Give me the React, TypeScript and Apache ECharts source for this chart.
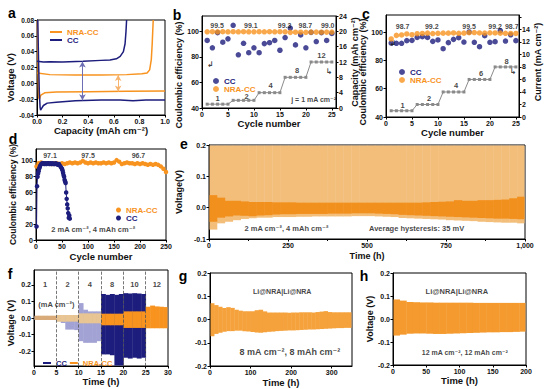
import React, { useEffect, useRef } from "react";
import * as echarts from "echarts";

const NAVY = "#1d1d7d";
const ORANGE = "#f7931e";
const FONT = '"Liberation Sans", Arial, Helvetica, "DejaVu Sans", sans-serif';

// ---------- panel a : voltage profiles ----------
const aCCPlateCap = [0.006, 0.012, 0.018, 0.024, 0.028, 0.035, 0.05, 0.08, 0.15, 0.3, 0.5, 0.65, 0.75, 0.85, 1.0];
const aCCPlateV = [0.08, 0.03, -0.01, -0.03, -0.034, -0.032, -0.028, -0.025, -0.024, -0.022, -0.021, -0.021, -0.022, -0.021, -0.021];
const aCCStripCap = [0.0, 0.05, 0.1, 0.2, 0.36, 0.5, 0.57, 0.62, 0.65, 0.675, 0.688, 0.695, 0.7];
const aCCStripV = [0.028, 0.027, 0.0272, 0.027, 0.028, 0.029, 0.0295, 0.031, 0.034, 0.04, 0.05, 0.065, 0.08];
const aNRAPlateCap = [0.003, 0.006, 0.01, 0.013, 0.018, 0.03, 0.06, 0.15, 0.4, 0.7, 1.0];
const aNRAPlateV = [0.08, 0.04, 0.0, -0.018, -0.02, -0.015, -0.012, -0.011, -0.0105, -0.01, -0.0098];
const aNRAStripCap = [0.002, 0.1, 0.3, 0.5, 0.7, 0.82, 0.86, 0.88, 0.893, 0.9, 0.908];
const aNRAStripV = [0.013, 0.011, 0.0105, 0.0105, 0.011, 0.012, 0.013, 0.017, 0.03, 0.05, 0.08];
const aArrowCC = [0.355, 0.0275, -0.0215];
const aArrowNRA = [0.634, 0.0105, -0.0103];

// ---------- panel b ----------
const bCycles = [1, 2, 3, 4, 5, 6, 7, 8, 9, 10, 11, 12, 13, 14, 15, 16, 17, 18, 19, 20, 21, 22, 23, 24, 25];
const bCC = [92.9, 87.1, 99.0, 91.5, 94.1, 104.7, 81.6, 90.6, 83.3, 87.1, 83.3, 90.4, 91.1, 92.9, 85.2, 95.1, 102.6, 89.4, 97.2, 87.1, 99.2, 92.0, 99.0, 92.9, 98.4];
const bNRA = [99.6, 99.7, 99.6, 99.7, 99.6, 99.7, 99.6, 99.7, 99.6, 99.6, 99.7, 99.6, 99.7, 99.6, 99.7, 99.6, 99.2, 99.3, 99.3, 99.2, 99.4, 99.4, 99.3, 99.4, 99.4];
const bCapacity = [1, 1, 1, 1, 1, 2, 2, 2, 2, 2, 4, 4, 4, 4, 4, 8, 8, 8, 8, 8, 12, 12, 12, 12, 12];
const bEffNotes: [number, number, string][] = [[2.9, 104.3, "99.5"], [9.4, 104.3, "99.1"], [15.9, 104.3, "99.3"], [19.9, 104.3, "98.7"], [24.2, 104.3, "99.0"]];
const bStepNotes: [number, number, string][] = [[3, 2.6, "1"], [8.6, 3.0, "2"], [13.2, 5.8, "4"], [18.3, 9.9, "8"], [23, 13.8, "12"]];

// ---------- panel c ----------
const cCycles = [1, 2, 3, 4, 5, 6, 7, 8, 9, 10, 11, 12, 13, 14, 15, 16, 17, 18, 19, 20, 21, 22, 23, 24, 25];
const cCC = [92.2, 92.0, 92.0, 93.9, 94.1, 96.2, 96.7, 96.2, 93.4, 94.4, 88.2, 92.5, 94.8, 96.0, 92.9, 100.0, 92.7, 89.6, 97.4, 92.7, 93.2, 100.9, 93.6, 98.0, 93.9];
const cNRA = [95.1, 97.6, 97.9, 98.6, 98.1, 98.8, 99.0, 99.2, 98.9, 99.1, 99.2, 99.2, 99.3, 99.1, 99.2, 99.5, 99.6, 99.3, 99.2, 99.4, 99.3, 99.2, 99.1, 99.0, 99.0];
const cCurrent = [1, 1, 1, 1, 1, 2, 2, 2, 2, 2, 4, 4, 4, 4, 4, 6, 6, 6, 6, 6, 8, 8, 8, 8, 8];
const cEffNotes: [number, number, string][] = [[3.2, 103.7, "98.7"], [8.8, 103.7, "99.2"], [16, 103.7, "99.5"], [21.0, 103.7, "99.2"], [24.2, 103.7, "98.7"]];
const cStepNotes: [number, number, string][] = [[3.2, 1.9, "1"], [8.3, 3.0, "2"], [13.5, 5.0, "4"], [18.3, 6.9, "6"], [23.2, 8.8, "8"]];

// ---------- panel d ----------
const dNRACycles = [1, 5, 10, 15, 20, 25, 30, 35, 40, 45, 50, 55, 60, 65, 70, 75, 80, 85, 90, 95, 100, 105, 110, 115, 120, 125, 130, 135, 140, 145, 150, 155, 160, 165, 170, 175, 180, 185, 190, 195, 200, 205, 210, 215, 220, 225, 230, 235, 240, 245, 250];
const dNRA = [93, 97, 98, 97, 97, 97, 96, 97, 97, 96, 97, 96, 97, 98, 97, 98, 97, 98, 100, 98, 97, 98, 97, 98, 97, 97, 98, 97, 98, 97, 98, 101, 99, 96, 97, 98, 97, 97, 96, 97, 96, 97, 96, 95, 96, 95, 96, 95, 93, 90, 86];
const dCCCycles = [1, 2, 3, 4, 5, 6, 7, 8, 10, 12, 14, 16, 18, 20, 22, 24, 26, 28, 30, 32, 34, 36, 38, 40, 42, 44, 46, 48, 50, 51, 52, 53, 54, 55, 56, 57, 58, 59, 60, 61, 62, 63, 64, 65];
const dCC = [17, 68, 80, 84, 87, 90, 92, 94, 96, 97, 97, 96, 97, 96, 97, 97, 96, 97, 96, 97, 96, 96, 97, 96, 95, 96, 94, 92, 90, 88, 85, 82, 80, 76, 74, 72, 60, 52, 45, 40, 34, 28, 31, 27];
const dEffNotes: [number, number, string][] = [[27, 107, "97.1"], [100, 107, "97.5"], [197, 107, "96.7"]];

// ---------- panel e (envelopes of the voltage trace) ----------
const eTimes = [12.5, 37.5, 62.5, 87.5, 112.5, 137.5, 162.5, 187.5, 212.5, 237.5, 262.5, 287.5, 312.5, 337.5, 362.5, 387.5, 412.5, 437.5, 462.5, 487.5, 512.5, 537.5, 562.5, 587.5, 612.5, 637.5, 662.5, 687.5, 712.5, 737.5, 762.5, 787.5, 812.5, 837.5, 862.5, 887.5, 912.5, 937.5, 962.5, 987.5];
const eCoreHigh = [0.04, 0.032, 0.022, 0.022, 0.02, 0.018, 0.018, 0.018, 0.017, 0.017, 0.017, 0.016, 0.016, 0.016, 0.016, 0.016, 0.016, 0.016, 0.016, 0.016, 0.016, 0.016, 0.016, 0.016, 0.016, 0.016, 0.016, 0.017, 0.018, 0.019, 0.02, 0.024, 0.022, 0.022, 0.024, 0.024, 0.025, 0.026, 0.03, 0.035];
const eCoreLow = [-0.045, -0.032, -0.028, -0.025, -0.026, -0.027, -0.025, -0.024, -0.022, -0.021, -0.021, -0.02, -0.02, -0.02, -0.02, -0.019, -0.019, -0.019, -0.018, -0.018, -0.018, -0.019, -0.02, -0.021, -0.023, -0.024, -0.025, -0.026, -0.027, -0.028, -0.029, -0.03, -0.031, -0.032, -0.033, -0.034, -0.035, -0.035, -0.036, -0.037];
const eSpikeLow = [-0.07, -0.05, -0.045, -0.04, -0.036, -0.034, -0.032, -0.032, -0.03, -0.03, -0.03, -0.029, -0.029, -0.028, -0.028, -0.028, -0.028, -0.028, -0.027, -0.027, -0.027, -0.028, -0.029, -0.03, -0.033, -0.034, -0.035, -0.036, -0.037, -0.038, -0.04, -0.041, -0.042, -0.043, -0.045, -0.046, -0.047, -0.048, -0.048, -0.05];
const eSpikeHigh = [0.2, 0.2, 0.2, 0.2, 0.2, 0.2, 0.2, 0.2, 0.2, 0.2, 0.2, 0.2, 0.2, 0.2, 0.2, 0.2, 0.2, 0.2, 0.2, 0.2, 0.2, 0.2, 0.2, 0.2, 0.2, 0.2, 0.2, 0.2, 0.2, 0.2, 0.2, 0.2, 0.2, 0.2, 0.2, 0.2, 0.2, 0.2, 0.2, 0.2];
const eNotes: [number, number, string][] = [[245, -0.068, "2 mA cm⁻², 4 mAh cm⁻²"], [657, -0.068, "Average hysteresis: 35 mV"]];

// ---------- panel f ----------
const fCCTimes = [0.5, 1.5, 2.5, 3.5, 4.5, 5.5, 6.5, 7.5, 8.5, 9.5, 10.5, 11.5, 12.5, 13.5, 14.5, 15.5, 16.5, 17.5, 18.5, 19.5, 20.5, 21.5, 22.5, 23.5, 24.5];
const fCCLow = [-0.01, -0.01, -0.01, -0.01, -0.01, -0.02, -0.03, -0.07, -0.07, -0.073, -0.14, -0.15, -0.15, -0.15, -0.14, -0.22, -0.22, -0.225, -0.3, -0.3, -0.24, -0.245, -0.24, -0.245, -0.24];
const fCCHigh = [0.01, 0.01, 0.01, 0.01, 0.01, 0.015, 0.015, 0.015, 0.015, 0.015, 0.09, 0.05, 0.04, 0.04, 0.04, 0.145, 0.14, 0.145, 0.14, 0.145, 0.15, 0.148, 0.15, 0.148, 0.145];
const fNRATimes = [0.5, 1.5, 2.5, 3.5, 4.5, 5.5, 6.5, 7.5, 8.5, 9.5, 10.5, 11.5, 12.5, 13.5, 14.5, 15.5, 16.5, 17.5, 18.5, 19.5, 20.5, 21.5, 22.5, 23.5, 24.5, 25.5, 26.5, 27.5, 28.5, 29.5];
const fNRALow = [-0.012, -0.012, -0.012, -0.012, -0.012, -0.022, -0.022, -0.022, -0.022, -0.022, -0.032, -0.032, -0.032, -0.032, -0.032, -0.044, -0.044, -0.044, -0.044, -0.044, -0.06, -0.06, -0.06, -0.06, -0.06, -0.062, -0.062, -0.062, -0.062, -0.062];
const fNRAHigh = [0.014, 0.014, 0.014, 0.014, 0.014, 0.018, 0.018, 0.018, 0.018, 0.018, 0.028, 0.028, 0.028, 0.028, 0.028, 0.026, 0.026, 0.026, 0.026, 0.026, 0.04, 0.04, 0.04, 0.04, 0.04, 0.068, 0.075, 0.07, 0.068, 0.066];
const fSteps = [5, 10, 15, 20, 25];
const fCurrentNotes: [number, number, string][] = [[2.5, 0.2, "1"], [7.5, 0.2, "2"], [12.5, 0.2, "4"], [17.5, 0.2, "8"], [22.5, 0.2, "10"], [27.5, 0.2, "12"]];

// ---------- panel g ----------
const gTimes = [5, 15, 25, 35, 45, 55, 65, 75, 85, 95, 105, 115, 125, 135, 145, 155, 165, 175, 185, 195, 205, 215, 225, 235, 245, 255, 265, 275, 285, 295, 305, 315, 325, 335, 345];
const gHigh = [0.07, 0.062, 0.055, 0.05, 0.053, 0.05, 0.042, 0.038, 0.036, 0.036, 0.035, 0.04, 0.042, 0.035, 0.03, 0.03, 0.03, 0.03, 0.03, 0.029, 0.03, 0.03, 0.031, 0.031, 0.031, 0.03, 0.032, 0.034, 0.036, 0.032, 0.031, 0.031, 0.031, 0.031, 0.031];
const gLow = [-0.072, -0.062, -0.057, -0.053, -0.05, -0.05, -0.048, -0.048, -0.05, -0.052, -0.054, -0.056, -0.057, -0.055, -0.053, -0.052, -0.05, -0.049, -0.048, -0.047, -0.047, -0.046, -0.045, -0.044, -0.043, -0.043, -0.042, -0.041, -0.04, -0.039, -0.038, -0.037, -0.037, -0.036, -0.036];

// ---------- panel h ----------
const hTimes = [5, 15, 25, 35, 45, 55, 65, 75, 85, 95, 105, 115, 125, 135, 145, 155, 165, 175, 185, 195];
const hHigh = [0.085, 0.08, 0.074, 0.073, 0.072, 0.072, 0.071, 0.071, 0.071, 0.071, 0.071, 0.071, 0.07, 0.07, 0.07, 0.07, 0.07, 0.07, 0.07, 0.07];
const hLow = [-0.072, -0.068, -0.064, -0.063, -0.063, -0.064, -0.065, -0.065, -0.064, -0.063, -0.062, -0.061, -0.06, -0.059, -0.058, -0.058, -0.057, -0.057, -0.056, -0.055];

// ---------- helpers ----------
const zip = (xs: number[], ys: number[]) => xs.map((x, i) => [x, ys[i]]);
const LBL = { fontSize: 7, fontWeight: "bold", color: "#111", fontFamily: FONT };
const NAME = { fontSize: 9.5, fontWeight: "bold", color: "#111", fontFamily: FONT };

function ax(o: any) {
  const { fmt, hideMax, hideMin, nameSize, namePad, ...rest } = o;
  return {
    type: "value",
    nameLocation: "middle",
    nameTextStyle: { ...NAME, fontSize: nameSize || 9.5, padding: namePad || 0 },
    axisLine: { show: true, onZero: false, lineStyle: { color: "#000", width: 1 } },
    axisTick: { show: true, length: 2.5, lineStyle: { color: "#000" } },
    axisLabel: { ...LBL, margin: 3, formatter: fmt, showMaxLabel: hideMax ? false : undefined, showMinLabel: hideMin ? false : undefined },
    splitLine: { show: false },
    ...rest,
  };
}

function notes(xi: number, yi: number, items: [number, number, string][], size = 7, color = "#111", extra: any = {}) {
  return {
    type: "scatter",
    xAxisIndex: xi,
    yAxisIndex: yi,
    silent: true,
    z: 10,
    symbolSize: 1,
    itemStyle: { color: "transparent" },
    data: items.map(([x, y, t]) => ({ value: [x, y], name: t })),
    label: { show: true, position: "inside", formatter: (p: any) => p.name, color, fontSize: size, fontWeight: "bold", fontFamily: FONT },
    ...extra,
  };
}

function band(xi: number, yi: number, name: string, times: number[], lows: number[], highs: number[], half: number, color: (t: number) => string, z = 2) {
  return {
    type: "custom",
    name,
    xAxisIndex: xi,
    yAxisIndex: yi,
    silent: true,
    z,
    itemStyle: { color: color(times[times.length - 1]) },
    data: times.map((t, i) => [t, lows[i], highs[i]]),
    renderItem: (params: any, api: any) => {
      const t = api.value(0), lo = api.value(1), hi = api.value(2);
      const p0 = api.coord([t - half, hi]);
      const p1 = api.coord([t + half, lo]);
      const cs = params.coordSys;
      const x0 = Math.max(p0[0], cs.x + 0.5), x1 = Math.min(p1[0] + 0.4, cs.x + cs.width - 0.5);
      const y0 = Math.max(p0[1], cs.y + 0.5), y1 = Math.min(p1[1], cs.y + cs.height - 0.5);
      if (!(x1 > x0 && y1 > y0)) return;
      return { type: "rect", shape: { x: x0, y: y0, width: x1 - x0, height: y1 - y0 }, style: { fill: color(t) } };
    },
  };
}

const legendBase = (o: any) => ({
  selectedMode: false,
  formatter: (n: string) => n.split("#")[0],
  textStyle: { fontSize: 8, fontWeight: "bold", fontFamily: FONT },
  ...o,
});

const letter = (t: string, x: number, y: number) => ({
  type: "text",
  x,
  y,
  style: { text: t, fill: "#000", font: `bold 14px ${FONT}`, align: "center", verticalAlign: "middle" },
});

const f1 = (v: number) => v.toFixed(1);
const f2 = (v: number) => v.toFixed(2);

const option: any = {
  animation: false,
  backgroundColor: "#fff",
  tooltip: { show: false },
  grid: [
    { left: 37, top: 20, width: 128, height: 95 },
    { left: 202, top: 16, width: 134, height: 92 },
    { left: 386, top: 15, width: 133, height: 102 },
    { left: 36, top: 149, width: 130, height: 91 },
    { left: 209, top: 145, width: 316, height: 94 },
    { left: 34, top: 270, width: 134, height: 96 },
    { left: 210, top: 273, width: 142, height: 93 },
    { left: 393, top: 273, width: 133, height: 92 },
  ].map((g) => ({ ...g, show: true, borderColor: "#000", borderWidth: 1, backgroundColor: "transparent" })),
  xAxis: [
    ax({ gridIndex: 0, min: 0, max: 1, interval: 0.2, fmt: f1, name: "Capacity (mAh cm⁻²)", nameGap: 8 }),
    ax({ gridIndex: 1, min: 0, max: 25.8, interval: 5, hideMax: true, name: "Cycle number", nameGap: 9 }),
    ax({ gridIndex: 2, min: 0, max: 25.6, interval: 5, hideMax: true, name: "Cycle number", nameGap: 6 }),
    ax({ gridIndex: 3, min: 0, max: 250, interval: 50, name: "Cycle number", nameGap: 11 }),
    ax({ gridIndex: 4, min: 0, max: 1000, interval: 250, name: "Time (h)", nameGap: 12, nameSize: 9, minorTick: { show: true, splitNumber: 2, length: 2, lineStyle: { color: "#000" } } }),
    ax({ gridIndex: 5, min: 0, max: 30, interval: 5, name: "Time (h)", nameGap: 9 }),
    ax({ gridIndex: 6, min: 0, max: 350, interval: 100, hideMax: true, name: "Time (h)", nameGap: 11 }),
    ax({ gridIndex: 7, min: 0, max: 200, interval: 50, name: "Time (h)", nameGap: 9 }),
  ],
  yAxis: [
    ax({ gridIndex: 0, min: -0.04, max: 0.08, interval: 0.02, fmt: f2, name: "Voltage (V)", nameGap: 18, nameRotate: 90, namePad: [0, 20, 0, 0], axisLabel: { ...LBL, fontSize: 6.5, margin: 3, formatter: f2 } }),
    ax({ gridIndex: 1, min: 40, max: 112, interval: 20, hideMax: true, name: "Coulombic efficiency (%)", nameGap: 18, nameSize: 9, nameRotate: 90, namePad: [0, 26, 0, 0] }),
    ax({ gridIndex: 1, position: "right", min: 0, max: 24, interval: 4, name: "Capacity (mAh cm⁻²)", nameGap: 9, nameSize: 9, nameRotate: 90 }),
    ax({ gridIndex: 2, min: 40, max: 112, interval: 20, hideMax: true, name: "Coulombic efficiency (%)", nameGap: 18, nameSize: 9, nameRotate: 90, namePad: [0, 12, 0, 0] }),
    ax({ gridIndex: 2, position: "right", min: 0, max: 16.3, interval: 2, hideMax: true, fmt: (v: number) => (v > 14.5 ? "" : String(v)), name: "Current (mA cm⁻²)", nameGap: 14, nameSize: 9, nameRotate: 90, namePad: [0, 0, 0, 8] }),
    ax({ gridIndex: 3, min: 0, max: 115, interval: 20, hideMax: true, name: "Coulombic efficiency (%)", nameGap: 15, nameSize: 8.5, nameRotate: 90 }),
    ax({ gridIndex: 4, min: -0.1, max: 0.2, interval: 0.1, fmt: f1, name: "Voltage(V)", nameGap: 17, nameSize: 9, nameRotate: 90 }),
    ax({ gridIndex: 5, min: -0.29, max: 0.29, fmt: f1, hideMax: true, hideMin: true, name: "Voltage (V)", nameGap: 13, nameSize: 9, nameRotate: 90, namePad: [0, 10, 0, 0] }),
    ax({ gridIndex: 6, min: -0.2, max: 0.2, interval: 0.1, fmt: f1 }),
    ax({ gridIndex: 7, min: -0.2, max: 0.2, interval: 0.1, fmt: f1, name: "Voltage (V)", nameGap: 16, nameSize: 9, nameRotate: 90 }),
  ],
  legend: [
    legendBase({ left: 45, top: 23, orient: "vertical", itemGap: 0, itemWidth: 12, itemHeight: 2, icon: "rect", data: [{ name: "NRA-CC#a", textStyle: { color: ORANGE } }, { name: "CC#a", textStyle: { color: NAVY } }] }),
    legendBase({ left: 208, top: 72, orient: "vertical", itemGap: 0, itemWidth: 6, itemHeight: 6, icon: "circle", data: [{ name: "CC#b", textStyle: { color: NAVY } }, { name: "NRA-CC#b", textStyle: { color: ORANGE } }] }),
    legendBase({ left: 394, top: 63, orient: "vertical", itemGap: 0, itemWidth: 6, itemHeight: 6, icon: "circle", data: [{ name: "CC#c", textStyle: { color: NAVY } }, { name: "NRA-CC#c", textStyle: { color: ORANGE } }] }),
    legendBase({ left: 111, top: 201, orient: "vertical", itemGap: 0, itemWidth: 5, itemHeight: 5, icon: "circle", data: [{ name: "NRA-CC#d", textStyle: { color: ORANGE } }, { name: "CC#d", textStyle: { color: NAVY } }] }),
    legendBase({ left: 38, top: 354, orient: "horizontal", itemGap: 3, itemWidth: 8, itemHeight: 2, icon: "rect", textStyle: { fontSize: 7.5, fontWeight: "bold", fontFamily: FONT }, data: [{ name: "CC#f", textStyle: { color: NAVY } }, { name: "NRA-CC#f", textStyle: { color: ORANGE } }] }),
  ],
  graphic: [
    letter("a", 12, 13),
    letter("b", 177, 15),
    letter("c", 366, 14),
    letter("d", 13, 139),
    letter("e", 184, 144),
    letter("f", 10, 274),
    letter("g", 183, 276),
    letter("h", 364, 276),
  ],
  series: [
    // a
    { type: "line", name: "NRA-CC#a", xAxisIndex: 0, yAxisIndex: 0, data: zip(aNRAPlateCap, aNRAPlateV), symbol: "none", color: ORANGE, lineStyle: { width: 1.5 }, silent: true,
      markLine: { silent: true, symbol: ["arrow", "arrow"], symbolSize: [5, 6], lineStyle: { color: "#f6b46e", width: 1, type: "solid" }, label: { show: false }, data: [[{ coord: [aArrowNRA[0], aArrowNRA[1]] }, { coord: [aArrowNRA[0], aArrowNRA[2]] }]] } },
    { type: "line", name: "NRA-CC#a", xAxisIndex: 0, yAxisIndex: 0, data: zip(aNRAStripCap, aNRAStripV), symbol: "none", color: ORANGE, lineStyle: { width: 1.5 }, silent: true },
    { type: "line", name: "CC#a", xAxisIndex: 0, yAxisIndex: 0, data: zip(aCCPlateCap, aCCPlateV), symbol: "none", color: NAVY, lineStyle: { width: 1.5 }, silent: true,
      markLine: { silent: true, symbol: ["arrow", "arrow"], symbolSize: [5, 6], lineStyle: { color: "#6e6eb4", width: 1, type: "solid" }, label: { show: false }, data: [[{ coord: [aArrowCC[0], aArrowCC[1]] }, { coord: [aArrowCC[0], aArrowCC[2]] }]] } },
    { type: "line", name: "CC#a", xAxisIndex: 0, yAxisIndex: 0, data: zip(aCCStripCap, aCCStripV), symbol: "none", color: NAVY, lineStyle: { width: 1.5 }, silent: true },

    // b
    { type: "line", name: "capB", xAxisIndex: 1, yAxisIndex: 2, data: zip(bCycles, bCapacity), symbol: "rect", symbolSize: 3, color: "#8a8a8a", lineStyle: { width: 1 }, silent: true },
    { type: "scatter", name: "CC#b", xAxisIndex: 1, yAxisIndex: 1, data: zip(bCycles, bCC), symbolSize: 5.5, color: NAVY, silent: true },
    { type: "scatter", name: "NRA-CC#b", xAxisIndex: 1, yAxisIndex: 1, data: zip(bCycles, bNRA), symbolSize: 5.5, color: ORANGE, silent: true },
    notes(1, 1, bEffNotes, 7),
    notes(1, 2, bStepNotes, 7.5),
    notes(1, 2, [[21.5, 2.2, "j = 1 mA cm⁻²"]], 7),
    notes(1, 1, [[1.6, 74, "↲"]], 8),
    notes(1, 2, [[24.4, 9.6, "↳"]], 8),

    // c
    { type: "line", name: "curC", xAxisIndex: 2, yAxisIndex: 4, data: zip(cCycles, cCurrent), symbol: "rect", symbolSize: 3, color: "#8a8a8a", lineStyle: { width: 1 }, silent: true },
    { type: "scatter", name: "CC#c", xAxisIndex: 2, yAxisIndex: 3, data: zip(cCycles, cCC), symbolSize: 5.5, color: NAVY, silent: true },
    { type: "scatter", name: "NRA-CC#c", xAxisIndex: 2, yAxisIndex: 3, data: zip(cCycles, cNRA), symbolSize: 5.5, color: ORANGE, silent: true },
    notes(2, 3, cEffNotes, 7),
    notes(2, 4, cStepNotes, 7.5),
    notes(2, 3, [[1.3, 92, "↲"]], 8),
    notes(2, 4, [[24.4, 7.2, "↳"]], 8),

    // d
    { type: "line", name: "NRA-CC#d", xAxisIndex: 3, yAxisIndex: 5, data: zip(dNRACycles, dNRA), symbol: "circle", symbolSize: 4.5, color: ORANGE, lineStyle: { width: 1.5 }, silent: true },
    { type: "line", name: "CC#d", xAxisIndex: 3, yAxisIndex: 5, data: zip(dCCCycles, dCC), symbol: "circle", symbolSize: 4.5, color: NAVY, lineStyle: { width: 1 }, silent: true },
    notes(3, 5, dEffNotes, 7),
    notes(3, 5, [[110, 13.5, "2 mA cm⁻², 4 mAh cm⁻²"]], 7.5),

    // e
    band(4, 6, "eSpike", eTimes, eSpikeLow, eSpikeHigh, 12.5, () => "#f3be7a"),
    band(4, 6, "eCore", eTimes, eCoreLow, eCoreHigh, 12.5, () => "#f2901e", 3),
    notes(4, 6, eNotes, 7.5),

    // f
    band(5, 7, "CC#f", fCCTimes, fCCLow, fCCHigh, 0.5, (t) => (t < 15 ? "#a2a2d4" : NAVY)),
    band(5, 7, "NRA-CC#f", fNRATimes, fNRALow, fNRAHigh, 0.5, (t) => (t < 5 ? "#d9ab78" : t < 15 ? "#e8c592" : ORANGE), 3),
    notes(5, 7, fCurrentNotes, 7.5, "#111", {
      markLine: { silent: true, symbol: ["none", "none"], lineStyle: { color: "#555", width: 0.8, type: "dashed" }, label: { show: false }, data: fSteps.map((x) => ({ xAxis: x })) },
    }),
    notes(5, 7, [[5, 0.083, "(mA cm⁻²)"]], 7.5),

    // g
    band(6, 8, "gBand", gTimes, gLow, gHigh, 5, () => "#f5a23c"),
    notes(6, 8, [[178, 0.121, "Li@NRA|Li@NRA"]], 7),
    notes(6, 8, [[197, -0.14, "8 mA cm⁻², 8 mAh cm⁻²"]], 9),

    // h
    band(7, 9, "hBand", hTimes, hLow, hHigh, 5, () => "#f49a2e"),
    notes(7, 9, [[96, 0.12, "Li@NRA|Li@NRA"]], 7.5),
    notes(7, 9, [[108, -0.147, "12 mA cm⁻², 12 mAh cm⁻²"]], 7),
  ],
};

export default function App() {
  const ref = useRef<HTMLDivElement>(null);
  useEffect(() => {
    document.body.style.margin = "0";
    document.documentElement.style.margin = "0";
    if (!ref.current) return;
    const chart = echarts.init(ref.current, undefined, { renderer: "svg", width: 554, height: 389 });
    chart.setOption(option);
    return () => chart.dispose();
  }, []);
  return <div ref={ref} style={{ position: "absolute", left: 0, top: 0, width: 554, height: 389, background: "#fff" }} />;
}
